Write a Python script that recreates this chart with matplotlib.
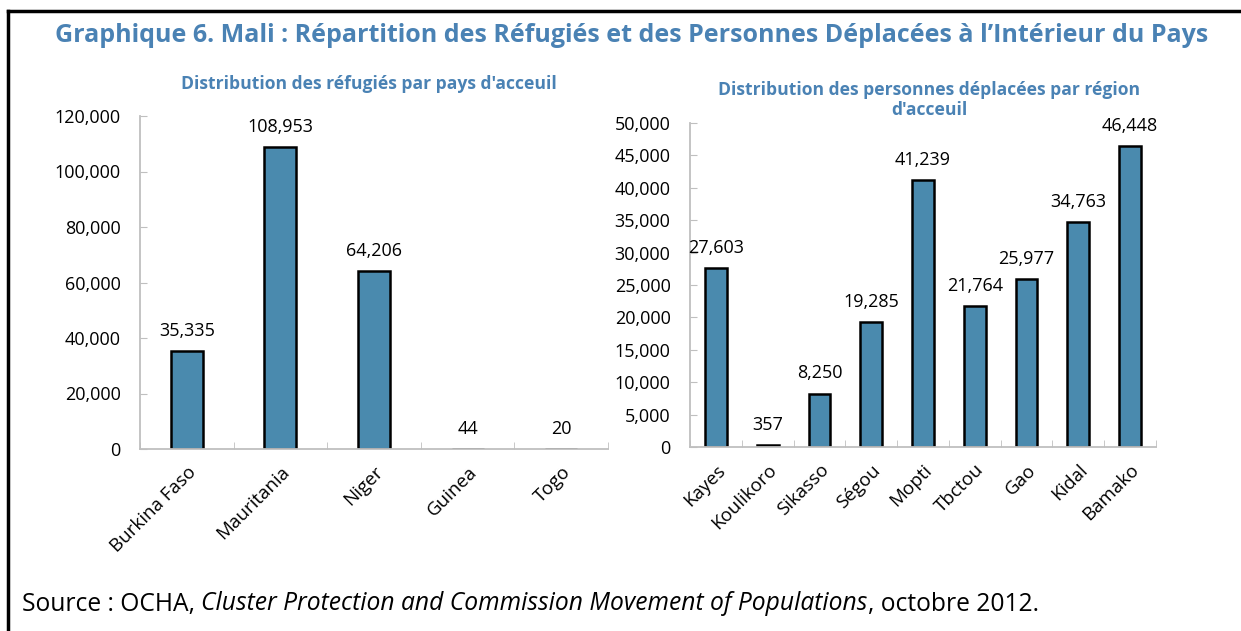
# Mali refugees / IDPs bar charts (Graphique 6)
import matplotlib
matplotlib.use('Agg')
import matplotlib.pyplot as plt
from matplotlib.lines import Line2D
from matplotlib.ticker import FuncFormatter, FixedLocator

# Refugees by host country
pays = ['Burkina Faso', 'Mauritania', 'Niger', 'Guinea', 'Togo']
refugies = [35335, 108953, 64206, 44, 20]

# Displaced persons by host region
regions = ['Kayes', 'Koulikoro', 'Sikasso', 'Ségou', 'Mopti',
           'Tbctou', 'Gao', 'Kidal', 'Bamako']
deplaces = [27603, 357, 8250, 19285, 41239, 21764, 25977, 34763, 46448]

plt.rcParams['font.family'] = ['Open Sans', 'DejaVu Sans']
bar_col = '#4a8aae'
title_col = '#4a82b4'
spine_col = '#bfbfbf'

fig = plt.figure(figsize=(12.41, 6.31), dpi=100, facecolor='white')

# frame lines (top and left only)
fig.add_artist(Line2D([8/1241, 1], [1-11/631, 1-11/631], color='black', lw=2.5,
                      transform=fig.transFigure))
fig.add_artist(Line2D([8/1241, 8/1241], [0, 1-11/631], color='black', lw=2.5,
                      transform=fig.transFigure))

fig.text(632/1241, 1-35/631,
         "Graphique 6. Mali : Répartition des Réfugiés et des Personnes Déplacées à l\u2019Intérieur du Pays",
         ha='center', va='center', fontsize=18, fontweight='bold', color=title_col)


def style_axes(ax, ymax, ystep):
    for s in ['top', 'right']:
        ax.spines[s].set_visible(False)
    for s in ['left', 'bottom']:
        ax.spines[s].set_color(spine_col)
        ax.spines[s].set_linewidth(1.3)
    ax.set_ylim(0, ymax)
    ax.yaxis.set_major_locator(FixedLocator(range(0, ymax + 1, ystep)))
    ax.yaxis.set_major_formatter(FuncFormatter(lambda v, p: f'{int(v):,}'))
    ax.tick_params(axis='y', direction='in', length=5, color=spine_col,
                   labelsize=13, pad=14)
    ax.tick_params(axis='x', which='major', length=0, labelsize=13.5, pad=10)
    ax.tick_params(axis='x', which='minor', direction='in', length=5,
                   color=spine_col)


def bars(ax, labels, values, width):
    n = len(labels)
    x = list(range(n))
    ax.bar(x, values, width=width, color=bar_col, edgecolor='black', linewidth=1.8)
    ax.set_xlim(-0.5, n - 0.5)
    ax.set_xticks(x)
    ax.set_xticklabels(labels, rotation=45, ha='right', rotation_mode='anchor')
    ax.set_xticks([i + 0.5 for i in range(-1, n)], minor=True)
    for xi, v in zip(x, values):
        ax.annotate(f'{v:,}', (xi, v), xytext=(0, 8), textcoords='offset points',
                    ha='center', va='bottom', fontsize=13)


W, H = 1241, 631
# left chart
ax1 = fig.add_axes([140/W, 1-449/H, (608-140)/W, (449-116)/H])
bars(ax1, pays, refugies, 0.34)
style_axes(ax1, 120000, 20000)
fig.text(369/W, 1-84/H, "Distribution des réfugiés par pays d'acceuil",
         ha='center', va='center', fontsize=12.6, fontweight='bold', color=title_col)

# right chart
ax2 = fig.add_axes([690/W, 1-447/H, (1156-690)/W, (447-123)/H])
bars(ax2, regions, deplaces, 0.42)
style_axes(ax2, 50000, 5000)
fig.text(929/W, 1-100/H, "Distribution des personnes déplacées par région\nd'acceuil",
         ha='center', va='center', fontsize=12.6, fontweight='bold', color=title_col,
         linespacing=1.2)

# source line
t = fig.text(22/W, 1-604/H, 'Source : OCHA, ', ha='left', va='center', fontsize=17.7)
t2 = fig.text(0, 0, 'Cluster Protection and Commission Movement of Populations',
              ha='left', va='center', fontsize=17.7, style='italic')
t3 = fig.text(0, 0, ', octobre 2012.', ha='left', va='center', fontsize=17.7)
fig.canvas.draw()
r = fig.canvas.get_renderer()
bb = t.get_window_extent(r)
t2.set_position(((bb.x1) / W, 1-604/H))
bb2 = t2.get_window_extent(r)
t3.set_position(((bb2.x1) / W, 1-604/H))

fig.savefig('out.png', dpi=100)
